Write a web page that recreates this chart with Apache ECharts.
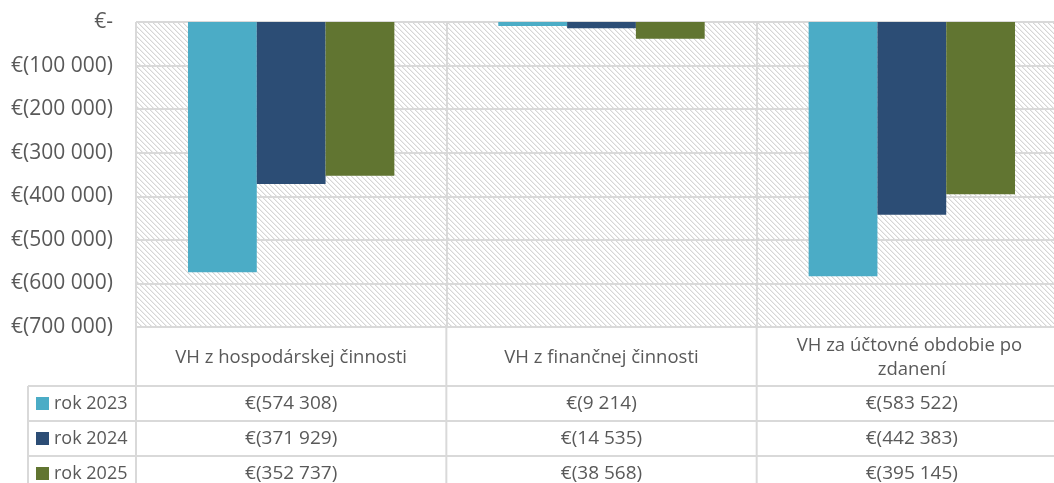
<!DOCTYPE html>
<html>
<head>
<meta charset="utf-8">
<script src="https://cdn.jsdelivr.net/npm/echarts@6/dist/echarts.min.js"></script>
<style>
  html, body { margin: 0; padding: 0; background: #fff; overflow: hidden; }
  #chart { width: 1054px; height: 483px; }
</style>
</head>
<body>
<div id="chart"></div>
<script>
// data
const categories = ["VH z hospodárskej činnosti", "VH z finančnej činnosti", "VH za účtovné obdobie po zdanení"];
const seriesNames = ["rok 2023", "rok 2024", "rok 2025"];
const values2023 = [-574308, -9214, -583522];
const values2024 = [-371929, -14535, -442383];
const values2025 = [-352737, -38568, -395145];
const yMin = -700000;
const yMax = 0;
const yStep = 100000;

const allValues = [values2023, values2024, values2025];
const colors = ["#4BACC6", "#2C4D75", "#617531"];
const textColor = "#595959";
const lineColor = "#d9d9d9";
const font = "'Open Sans', sans-serif";

function euro(v) {
  if (v === 0) return "€-";
  const s = Math.abs(v).toString().replace(/\B(?=(\d{3})+(?!\d))/g, " ");
  return v < 0 ? "€(" + s + ")" : "€" + s;
}

// hatch pattern for plot background
function hatch() {
  const c = document.createElement("canvas");
  c.width = 5; c.height = 5;
  const ctx = c.getContext("2d");
  ctx.fillStyle = "#fff";
  ctx.fillRect(0, 0, 5, 5);
  for (let y = 0; y < 5; y++) {
    for (let x = 0; x < 5; x++) {
      const d = ((x - y) % 5 + 5) % 5;
      if (d === 0) { ctx.fillStyle = "#d6d6d6"; ctx.fillRect(x, y, 1, 1); }
      else if (d === 1) { ctx.fillStyle = "#eeeeee"; ctx.fillRect(x, y, 1, 1); }
    }
  }
  return c;
}

const chart = echarts.init(document.getElementById("chart"), null, { renderer: "canvas" });

const gridLeft = 136, gridTop = 22, gridW = 931, gridH = 305;

chart.setOption({
  animation: false,
  textStyle: { fontFamily: font },
  grid: {
    left: gridLeft, top: gridTop, width: gridW, height: gridH,
    outerBoundsMode: "none", containLabel: false,
    show: true, borderWidth: 0,
    backgroundColor: { image: hatch(), repeat: "repeat" }
  },
  xAxis: {
    type: "category",
    data: categories,
    position: "bottom",
    axisLine: { show: false },
    axisTick: { show: false },
    splitLine: { show: true, lineStyle: { color: lineColor, width: 2 } },
    axisLabel: {
      color: textColor, fontSize: 18.5, fontFamily: font,
      interval: 0, margin: 31, verticalAlign: "middle",
      lineHeight: 24, width: 270, overflow: "break"
    }
  },
  yAxis: {
    type: "value",
    min: yMin, max: yMax, interval: yStep,
    axisLine: { show: false },
    axisTick: { show: false },
    splitLine: { lineStyle: { color: lineColor, width: 2 } },
    axisLabel: {
      color: textColor, fontSize: 21, fontFamily: font, margin: 23,
      formatter: euro
    }
  },
  series: seriesNames.map((name, i) => ({
    name: name,
    type: "bar",
    data: allValues[i],
    barGap: "0%",
    barCategoryGap: "33.5%",
    itemStyle: { color: colors[i] }
  }))
});

// data table below the plot
const graphics = [];
const x0 = chart.convertToPixel({ gridIndex: 0 }, [0, 0])[0];
const x1 = chart.convertToPixel({ gridIndex: 0 }, [1, 0])[0];
const band = x1 - x0;
const colLeft = x0 - band / 2;
const tableTop = gridTop + gridH;
const headerBottom = 386;
const rowH = 35;
const legendLeft = 28;
const bottom = 483;
const cellFont = "19px " + font;
const legendFont = "18px " + font;

function line(xa, ya, xb, yb) {
  graphics.push({
    type: "line", silent: true,
    shape: { x1: xa, y1: ya, x2: xb, y2: yb },
    style: { stroke: lineColor, lineWidth: 2 }
  });
}

for (let c = 0; c <= categories.length; c++) {
  const x = colLeft + c * band;
  line(x, tableTop, x, bottom);
}
line(legendLeft, headerBottom, legendLeft, bottom);
for (let r = 0; r < seriesNames.length; r++) {
  const y = headerBottom + r * rowH;
  line(legendLeft, y, colLeft + categories.length * band, y);
}

seriesNames.forEach((name, r) => {
  const cy = headerBottom + r * rowH + rowH / 2;
  graphics.push({
    type: "rect", silent: true,
    shape: { x: 36, y: cy - 6.5, width: 13, height: 13 },
    style: { fill: colors[r] }
  });
  graphics.push({
    type: "text", silent: true, x: 54, y: cy,
    style: { text: name, fill: textColor, font: legendFont, verticalAlign: "middle", align: "left" }
  });
  allValues[r].forEach((v, c) => {
    graphics.push({
      type: "text", silent: true, x: x0 + c * band, y: cy,
      style: { text: euro(v), fill: textColor, font: cellFont, verticalAlign: "middle", align: "center" }
    });
  });
});

chart.setOption({ graphic: graphics });
</script>
</body>
</html>
